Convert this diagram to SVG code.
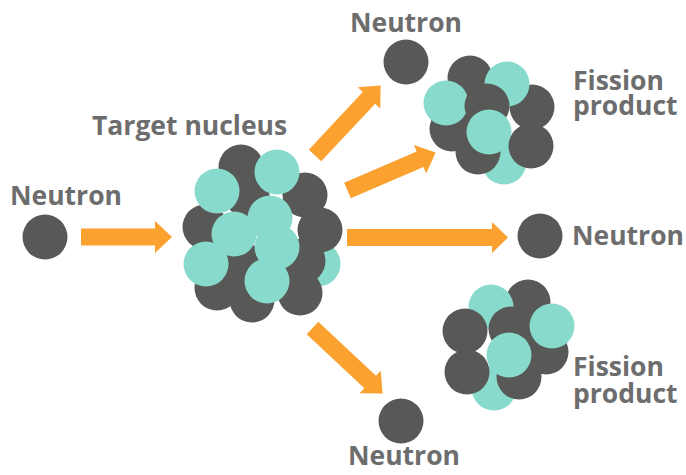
<svg xmlns="http://www.w3.org/2000/svg" xmlns:xlink="http://www.w3.org/1999/xlink" width="686" height="475" viewBox="0 0 686 475">
  <style>
    .n { fill: #585857; }
    .p { fill: #88dbcc; }
    .arrow { fill: #fba12f; }
    .label { font-family: "Open Sans", "Noto Sans", "Liberation Sans", sans-serif; font-weight: 700; font-size: 26.5px; fill: #6d6d6d; }
  </style>
  <defs>
    <!-- arrow pointing along +x, tail centred on the origin -->
    <path id="arr96" d="M0,-8.5 H79 V-15.5 L96,0 L79,15.5 V8.5 H0 Z"/>
  </defs>

  <!-- connectors -->
  <g id="connectors" class="arrow">
    <path d="M81,228.5 H155 V221 L172,237 L155,253 V245.5 H81 Z"/>
    <path d="M347,229 H492 V222 L508,237.5 L492,253 V246 H347 Z"/>
    <use xlink:href="#arr96" transform="translate(315,155.5) rotate(-46.9)"/>
    <use xlink:href="#arr96" transform="translate(347.5,190.5) rotate(-23.3)"/>
    <use xlink:href="#arr96" transform="translate(312.5,328) rotate(43.1)"/>
  </g>

  <!-- incoming neutron -->
  <g id="neutron-in">
    <circle class="n" cx="45" cy="237" r="22.5"/>
    <text class="label" x="10" y="205">Neutron</text>
  </g>

  <!-- target nucleus -->
  <g id="target-nucleus">
    <circle class="p" cx="318" cy="264" r="22.5"/>
    <circle class="n" cx="241" cy="167" r="22.5"/>
    <circle class="n" cx="247" cy="195" r="22.5"/>
    <circle class="n" cx="305" cy="195" r="22.5"/>
    <circle class="n" cx="320" cy="230" r="22.5"/>
    <circle class="n" cx="303" cy="261" r="22.5"/>
    <circle class="n" cx="205" cy="227" r="22.5"/>
    <circle class="n" cx="245" cy="266" r="22.5"/>
    <circle class="n" cx="217" cy="288" r="22.5"/>
    <circle class="n" cx="252" cy="300" r="22.5"/>
    <circle class="n" cx="300" cy="293" r="22.5"/>
    <circle class="p" cx="277" cy="172" r="22.5"/>
    <circle class="p" cx="217" cy="191" r="22.5"/>
    <circle class="p" cx="270" cy="218" r="22.5"/>
    <circle class="p" cx="234" cy="234" r="22.5"/>
    <circle class="p" cx="277" cy="247" r="22.5"/>
    <circle class="p" cx="206" cy="264" r="22.5"/>
    <circle class="p" cx="267" cy="281" r="22.5"/>
    <text class="label" x="92" y="135">Target nucleus</text>
  </g>

  <!-- emitted neutrons -->
  <g id="neutron-top">
    <circle class="n" cx="406" cy="62" r="22.5"/>
    <text class="label" x="350" y="32">Neutron</text>
  </g>
  <g id="neutron-right">
    <circle class="n" cx="540" cy="236" r="22.5"/>
    <text class="label" x="572" y="245">Neutron</text>
  </g>
  <g id="neutron-bottom">
    <circle class="n" cx="401" cy="421" r="22.5"/>
    <text class="label" x="348" y="465">Neutron</text>
  </g>

  <!-- upper fission product -->
  <g id="fission-product-1">
    <circle class="p" cx="504" cy="162" r="22.5"/>
    <circle class="n" cx="470" cy="78" r="22.5"/>
    <circle class="n" cx="452" cy="129" r="22.5"/>
    <circle class="n" cx="478" cy="152" r="22.5"/>
    <circle class="n" cx="532" cy="107" r="22.5"/>
    <circle class="p" cx="507" cy="84" r="22.5"/>
    <circle class="p" cx="446" cy="103" r="22.5"/>
    <circle class="n" cx="487" cy="106" r="22.5"/>
    <circle class="p" cx="489" cy="132" r="22.5"/>
    <circle class="n" cx="531" cy="146" r="22.5"/>
    <text class="label" x="573" y="90">Fission</text>
    <text class="label" x="573" y="115">product</text>
  </g>

  <!-- lower fission product -->
  <g id="fission-product-2">
    <circle class="p" cx="494" cy="388" r="22.5"/>
    <circle class="n" cx="528" cy="302" r="22.5"/>
    <circle class="p" cx="491" cy="307" r="22.5"/>
    <circle class="n" cx="465" cy="331" r="22.5"/>
    <circle class="n" cx="467" cy="372" r="22.5"/>
    <circle class="n" cx="519" cy="377" r="22.5"/>
    <circle class="n" cx="546" cy="352" r="22.5"/>
    <circle class="n" cx="511" cy="329" r="22.5"/>
    <circle class="p" cx="509" cy="355" r="22.5"/>
    <circle class="p" cx="552" cy="326" r="22.5"/>
    <text class="label" x="573" y="376">Fission</text>
    <text class="label" x="573" y="403">product</text>
  </g>
</svg>
